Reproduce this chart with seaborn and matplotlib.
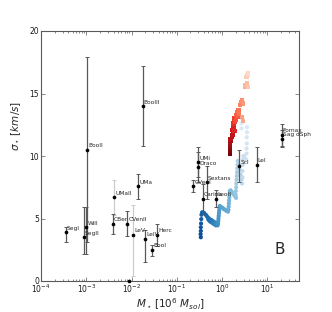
import numpy as np
import pandas as pd
import matplotlib
matplotlib.use("Agg")
import matplotlib.pyplot as plt
import seaborn as sns
from matplotlib.colors import LinearSegmentedColormap

# ---------------- observed dwarf galaxies ----------------
names = ["SegI", "BooII", "WilI", "SegII", "UMaII", "CBer", "CVenII", "LeV", "LeIV",
         "Herc", "BooI", "UMa", "BooIII", "", "UMi", "Draco", "CVenI", "Sextans",
         "Carina", "LeoII", "Scl", "LeI", "Fornax", "Sag dSph"]
mass = [3.5e-4, 1.05e-3, 1.0e-3, 8.9e-4, 4.1e-3, 3.8e-3, 8.0e-3, 1.1e-2, 2.0e-2,
        3.7e-2, 2.9e-2, 1.4e-2, 1.76e-2, 8.9e-3, 0.30, 0.30, 0.23, 0.455,
        0.37, 0.73, 2.4, 5.8, 20.6, 21.0]
sigma = [3.9, 10.5, 4.3, 3.5, 6.7, 4.6, 4.6, 3.7, 3.4,
         3.7, 2.5, 7.6, 14.0, 0.0, 9.5, 9.1, 7.6, 7.9,
         6.6, 6.6, 9.2, 9.3, 11.7, 11.4]
err_lo = [0.8, 7.4, 2.1, 1.3, 1.4, 0.8, 1.0, 3.3, 1.9,
          0.9, 0.5, 1.0, 3.2, 0.0, 1.2, 1.2, 0.5, 1.3,
          1.2, 0.7, 1.3, 1.4, 0.9, 0.7]
err_hi = [0.4, 7.4, 1.6, 2.4, 1.4, 0.8, 1.0, 2.4, 0.7,
          0.9, 0.4, 1.0, 3.2, 0.0, 1.2, 1.2, 0.5, 1.3,
          1.2, 0.7, 1.3, 1.4, 0.9, 0.7]
err_light = ["UMaII", "LeV"]

# ---------------- simulated track (blue) ----------------
blue_log_mass = [-0.47, -0.475, -0.47, -0.47, -0.465, -0.46, -0.455,
                 -0.44, -0.40, -0.36,
                 -0.33, -0.30, -0.31, -0.27, -0.29, -0.25, -0.26, -0.23, -0.21, -0.22,
                 -0.19, -0.17, -0.18, -0.15, -0.14, -0.13, -0.11, -0.10,
                 -0.09, -0.085, -0.08, -0.075, -0.07, -0.065, -0.06, -0.05,
                 -0.02, 0.01, 0.04, 0.07, 0.10, 0.13,
                 0.14, 0.145, 0.15, 0.155, 0.16, 0.165, 0.17,
                 0.19, 0.22, 0.25, 0.28, 0.31,
                 0.30, 0.305, 0.31, 0.315, 0.32, 0.325, 0.33, 0.335, 0.34, 0.345,
                 0.37, 0.39, 0.41, 0.43, 0.44,
                 0.45, 0.45, 0.455, 0.46, 0.47,
                 0.49, 0.51, 0.53,
                 0.54, 0.54, 0.545, 0.545, 0.55, 0.55,
                 0.43, 0.43, 0.43]
blue_sigma = [3.5, 3.75, 4.0, 4.3, 4.6, 4.95, 5.3,
              5.5, 5.45, 5.3,
              5.15, 4.9, 5.05, 4.8, 5.0, 4.9, 4.75, 4.85, 4.8, 4.65,
              4.75, 4.7, 4.55, 4.65, 4.45, 4.6, 4.5, 4.45,
              4.6, 4.8, 5.0, 5.2, 5.4, 5.6, 5.8, 6.0,
              5.9, 5.85, 5.75, 5.7, 5.6, 5.55,
              5.7, 5.95, 6.2, 6.45, 6.7, 6.95, 7.2,
              7.25, 7.1, 6.95, 6.8, 6.65,
              6.9, 7.2, 7.5, 7.8, 8.1, 8.4, 8.7, 9.0, 9.3, 9.6,
              9.3, 8.9, 8.5, 8.1, 7.8,
              8.3, 8.8, 9.3, 9.7, 10.0,
              9.9, 9.8, 9.7,
              10.2, 10.6, 11.0, 11.5, 11.9, 12.3,
              12.2, 12.6, 13.0]

# ---------------- simulated track (red) ----------------
red_log_mass = [0.17, 0.172, 0.175, 0.178, 0.18, 0.185, 0.19,
                0.22, 0.23, 0.24, 0.23, 0.25, 0.27,
                0.25, 0.27, 0.26, 0.29, 0.31, 0.34,
                0.32, 0.34, 0.36, 0.38,
                0.40, 0.42, 0.44, 0.46, 0.44, 0.46,
                0.50, 0.52, 0.55, 0.57,
                0.54, 0.56, 0.57]
red_sigma = [10.2, 10.4, 10.6, 10.8, 11.0, 11.2, 11.35,
             11.5, 11.7, 11.9, 12.1, 12.25, 12.0,
             12.6, 12.8, 13.0, 12.7, 12.9, 13.1,
             13.3, 13.5, 13.7, 13.4,
             14.1, 14.3, 14.5, 14.2, 13.1, 12.8,
             15.5, 15.7, 15.8, 15.5,
             16.3, 16.5, 16.6]

obs = pd.DataFrame({"name": names, "mass": mass, "sigma": sigma,
                    "lo": err_lo, "hi": err_hi})
blue = pd.DataFrame({"mass": 10 ** np.array(blue_log_mass), "sigma": blue_sigma})
blue["step"] = np.arange(len(blue))
red = pd.DataFrame({"mass": 10 ** np.array(red_log_mass), "sigma": red_sigma})
red["step"] = np.arange(len(red))

# ---------------- style ----------------
sns.set_style("ticks")
plt.rcParams.update({
    "font.family": ["DejaVu Sans"],
    "xtick.direction": "in", "ytick.direction": "in",
    "xtick.top": True, "ytick.right": True,
    "xtick.major.size": 3.0, "ytick.major.size": 3.0,
    "xtick.minor.size": 1.6, "ytick.minor.size": 1.6,
    "xtick.major.width": 0.5, "ytick.major.width": 0.5,
    "xtick.minor.width": 0.5,
    "xtick.color": "0.35", "ytick.color": "0.35",
    "xtick.labelcolor": "0.1", "ytick.labelcolor": "0.1",
    "axes.edgecolor": "0.35", "axes.linewidth": 0.8,
    "mathtext.fontset": "dejavusans",
})

fig = plt.figure(figsize=(3.32, 3.12), dpi=100)
ax = fig.add_axes([41 / 332, 1 - 281 / 312, 258 / 332, 250 / 312])

blue_cmap = LinearSegmentedColormap.from_list(
    "bt", plt.cm.Blues(np.linspace(0.88, 0.12, 64)))
red_cmap = LinearSegmentedColormap.from_list(
    "rt", plt.cm.Reds(np.linspace(0.97, 0.15, 64)))

sns.scatterplot(data=blue, x="mass", y="sigma", hue="step", palette=blue_cmap,
                hue_norm=(0, len(blue) - 1), s=9, linewidth=0, legend=False,
                ax=ax, zorder=2)
sns.scatterplot(data=red, x="mass", y="sigma", hue="step", palette=red_cmap,
                hue_norm=(0, len(red) - 1), s=10, marker="s", linewidth=0,
                legend=False, ax=ax, zorder=2)

for _, r in obs.iterrows():
    if r["lo"] > 0 or r["hi"] > 0:
        col = "0.8" if r["name"] in err_light else "0.35"
        ax.errorbar(r["mass"], r["sigma"], yerr=[[r["lo"]], [r["hi"]]],
                    fmt="none", ecolor=col, elinewidth=0.9, capsize=1.6,
                    capthick=0.7, zorder=3)

sns.scatterplot(data=obs, x="mass", y="sigma", color="black", s=7,
                linewidth=0, ax=ax, zorder=4, clip_on=False)

for _, r in obs.iterrows():
    if r["name"]:
        ax.annotate(r["name"], (r["mass"], r["sigma"]), xytext=(0.8, 1.0),
                    textcoords="offset points", fontsize=4.2, color="0.15",
                    ha="left", va="bottom", zorder=5)

ax.set_xscale("log")
ax.set_xlim(1e-4, 50)
ax.set_ylim(0, 20)
ax.set_yticks([0, 5, 10, 15, 20])
ax.tick_params(axis="both", which="major", labelsize=5.5, pad=1.5)
ax.set_xlabel(r"$M_\star\,[10^6\ M_{sol}]$", fontsize=7.5, labelpad=0.5)
ax.set_ylabel(r"$\sigma_\star\,[km/s]$", fontsize=7.5)
ax.yaxis.set_label_coords(-0.07, 0.62)
ax.text(0.926, 0.126, "B", transform=ax.transAxes, fontsize=11,
        ha="center", va="center")

fig.savefig("out.png", dpi=100)
